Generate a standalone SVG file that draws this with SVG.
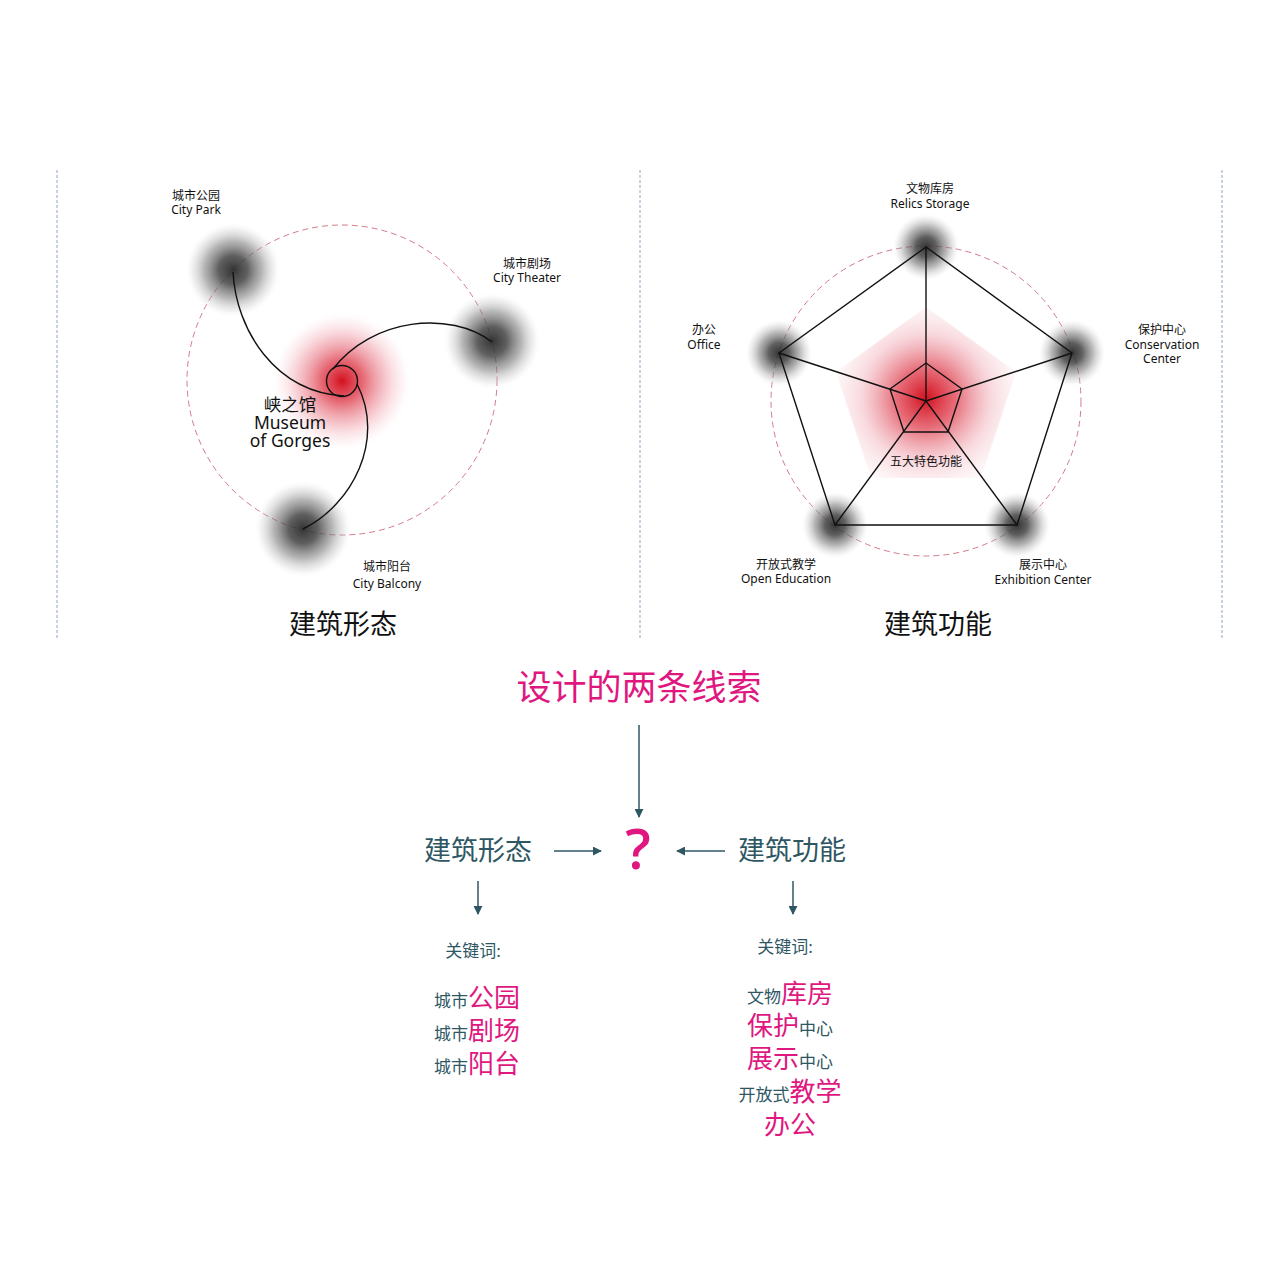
<svg xmlns="http://www.w3.org/2000/svg" width="1280" height="1280" viewBox="0 0 1280 1280">
<style>
.cn{font-family:"Noto Sans","Noto Sans CJK SC",sans-serif;}
.lbl{font-size:12px;fill:#111;text-anchor:middle;}
.title{font-size:27px;fill:#111;text-anchor:middle;}
.teal{fill:#2e5763;}
.mag{fill:#e0177f;}
.sep{stroke:#8ea6c4;stroke-width:1;stroke-dasharray:3 2;fill:none;}
.ring{stroke:#d47a8a;stroke-width:1;stroke-dasharray:6 4;fill:none;}
.ln{stroke:#111;stroke-width:1.4;fill:none;}
.arr{stroke:#2e5763;stroke-width:1.5;fill:none;marker-end:url(#ah);}
</style>
<defs>
<radialGradient id="gray">
<stop offset="0" stop-color="#2a2a2a" stop-opacity="0.95"/>
<stop offset="0.3" stop-color="#3c3c3c" stop-opacity="0.82"/>
<stop offset="0.6" stop-color="#7a7a7a" stop-opacity="0.55"/>
<stop offset="0.85" stop-color="#c4c4c4" stop-opacity="0.25"/>
<stop offset="1" stop-color="#fff" stop-opacity="0"/>
</radialGradient>
<radialGradient id="red">
<stop offset="0" stop-color="#d4101f" stop-opacity="1"/>
<stop offset="0.3" stop-color="#dc3040" stop-opacity="0.72"/>
<stop offset="0.65" stop-color="#e87080" stop-opacity="0.35"/>
<stop offset="0.88" stop-color="#f4b0bb" stop-opacity="0.12"/>
<stop offset="1" stop-color="#fff" stop-opacity="0"/>
</radialGradient>
<radialGradient id="redp" cx="926" cy="398" r="100" gradientUnits="userSpaceOnUse">
<stop offset="0" stop-color="#d4101f" stop-opacity="1"/>
<stop offset="0.3" stop-color="#dc3040" stop-opacity="0.7"/>
<stop offset="0.65" stop-color="#e88090" stop-opacity="0.3"/>
<stop offset="1" stop-color="#f4c0c8" stop-opacity="0.05"/>
</radialGradient>
<marker id="ah" viewBox="0 0 10 10" refX="9" refY="5" markerWidth="6" markerHeight="6" orient="auto" markerUnits="strokeWidth">
<path d="M0,0 L10,5 L0,10 z" fill="#2e5763"/>
</marker>
</defs>
<rect width="1280" height="1280" fill="#fff"/>

<g id="separators">
<line class="sep" x1="57" y1="170" x2="57" y2="640"/>
<line class="sep" x1="640" y1="170" x2="640" y2="640"/>
<line class="sep" x1="1222" y1="170" x2="1222" y2="640"/>
</g>

<g id="form-diagram">
<circle class="ring" cx="342" cy="380" r="155"/>
<circle cx="342" cy="381" r="70" fill="url(#red)"/>
<circle cx="233" cy="270" r="48" fill="url(#gray)"/>
<circle cx="492" cy="341" r="49" fill="url(#gray)"/>
<circle cx="303" cy="529" r="49" fill="url(#gray)"/>
<circle class="ln" cx="342" cy="381" r="15.5"/>
<path class="ln" d="M233,272 C236,330 275,392 344,396"/>
<path class="ln" d="M492,342 C450,310 372,318 333,369"/>
<path class="ln" d="M303,529 C352,505 386,440 357,384"/>
<g id="n-museum" class="cn" style="font-size:17.5px;fill:#111;text-anchor:middle;">
<text x="290" y="411">峡之馆</text>
<text x="290" y="429">Museum</text>
<text x="290" y="447">of Gorges</text>
</g>
<g id="n-park" class="cn lbl"><text x="196" y="200">城市公园</text><text x="196" y="214">City Park</text></g>
<g id="n-theater" class="cn lbl"><text x="527" y="268">城市剧场</text><text x="527" y="282">City Theater</text></g>
<g id="n-balcony" class="cn lbl"><text x="387" y="571">城市阳台</text><text x="387" y="588">City Balcony</text></g>
<text class="cn title" x="343" y="634">建筑形态</text>
</g>

<g id="function-diagram">
<circle class="ring" cx="926" cy="401" r="155"/>
<polygon points="926,307 1016,372 981,478 871,478 836,372" fill="url(#redp)"/>
<circle cx="926" cy="247" r="34" fill="url(#gray)"/>
<circle cx="1072" cy="353" r="34" fill="url(#gray)"/>
<circle cx="1017" cy="525" r="34" fill="url(#gray)"/>
<circle cx="835" cy="525" r="34" fill="url(#gray)"/>
<circle cx="779" cy="353" r="34" fill="url(#gray)"/>
<polygon class="ln" points="926,247 1072,353 1017,525 835,525 779,353"/>
<polygon class="ln" points="926,363 962,389 948,432 904,432 890,389"/>
<g class="ln">
<line x1="926" y1="401" x2="926" y2="247"/>
<line x1="926" y1="401" x2="1072" y2="353"/>
<line x1="926" y1="401" x2="1017" y2="525"/>
<line x1="926" y1="401" x2="835" y2="525"/>
<line x1="926" y1="401" x2="779" y2="353"/>
</g>
<text class="cn lbl" x="926" y="466">五大特色功能</text>
<g id="n-relics" class="cn lbl"><text x="930" y="193">文物库房</text><text x="930" y="208">Relics Storage</text></g>
<g id="n-office" class="cn lbl"><text x="704" y="334">办公</text><text x="704" y="349">Office</text></g>
<g id="n-conservation" class="cn lbl"><text x="1162" y="334">保护中心</text><text x="1162" y="349">Conservation</text><text x="1162" y="363">Center</text></g>
<g id="n-education" class="cn lbl"><text x="786" y="569">开放式教学</text><text x="786" y="583">Open Education</text></g>
<g id="n-exhibition" class="cn lbl"><text x="1043" y="569">展示中心</text><text x="1043" y="584">Exhibition Center</text></g>
<text class="cn title" x="938" y="634">建筑功能</text>
</g>

<g id="connectors">
<line class="arr" x1="639" y1="725" x2="639" y2="817"/>
<line class="arr" x1="554" y1="851" x2="601" y2="851"/>
<line class="arr" x1="725" y1="851" x2="677" y2="851"/>
<line class="arr" x1="478" y1="881" x2="478" y2="914"/>
<line class="arr" x1="793" y1="881" x2="793" y2="914"/>
</g>

<g id="n-clues"><text class="cn mag" x="639" y="700" style="font-size:35px;text-anchor:middle;">设计的两条线索</text></g>
<g id="n-question"><text class="mag" x="638" y="869" style="font-family:'Open Sans','Noto Sans',sans-serif;font-weight:600;font-size:56px;text-anchor:middle;">?</text></g>
<g id="n-form"><text class="cn teal" x="478" y="860" style="font-size:27px;text-anchor:middle;">建筑形态</text></g>
<g id="n-function"><text class="cn teal" x="792" y="860" style="font-size:27px;text-anchor:middle;">建筑功能</text></g>

<g id="n-keywords-form" class="cn" style="text-anchor:middle;">
<text class="teal" x="473" y="957" style="font-size:17px;">关键词:</text>
<text x="477" y="1007"><tspan class="teal" style="font-size:17px;">城市</tspan><tspan class="mag" style="font-size:26px;">公园</tspan></text>
<text x="477" y="1040"><tspan class="teal" style="font-size:17px;">城市</tspan><tspan class="mag" style="font-size:26px;">剧场</tspan></text>
<text x="477" y="1073"><tspan class="teal" style="font-size:17px;">城市</tspan><tspan class="mag" style="font-size:26px;">阳台</tspan></text>
</g>

<g id="n-keywords-function" class="cn" style="text-anchor:middle;">
<text class="teal" x="785" y="953" style="font-size:17px;">关键词:</text>
<text x="790" y="1003"><tspan class="teal" style="font-size:17px;">文物</tspan><tspan class="mag" style="font-size:26px;">库房</tspan></text>
<text x="790" y="1035"><tspan class="mag" style="font-size:26px;">保护</tspan><tspan class="teal" style="font-size:17px;">中心</tspan></text>
<text x="790" y="1068"><tspan class="mag" style="font-size:26px;">展示</tspan><tspan class="teal" style="font-size:17px;">中心</tspan></text>
<text x="790" y="1101"><tspan class="teal" style="font-size:17px;">开放式</tspan><tspan class="mag" style="font-size:26px;">教学</tspan></text>
<text x="790" y="1134"><tspan class="mag" style="font-size:26px;">办公</tspan></text>
</g>
</svg>
